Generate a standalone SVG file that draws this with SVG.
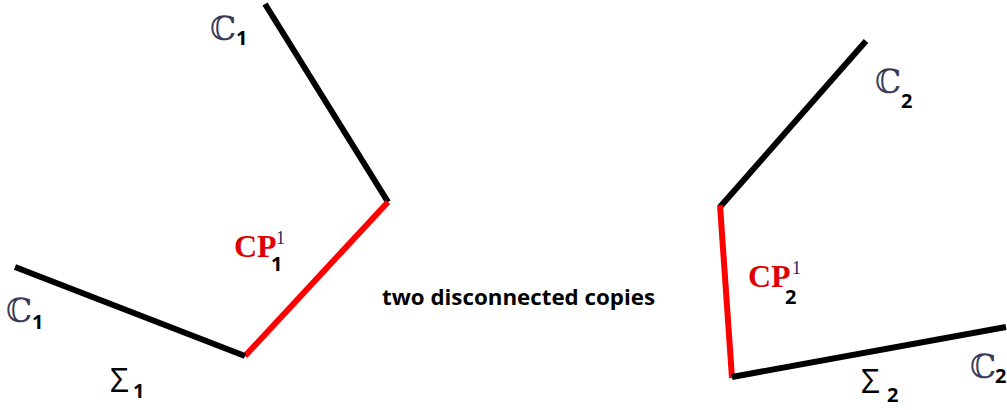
<svg xmlns="http://www.w3.org/2000/svg" width="1007" height="410" viewBox="0 0 1007 410">
<style>
.blk{stroke:#000;stroke-width:6;fill:none;stroke-linecap:butt}
.red{stroke:#ff0000;stroke-width:6;fill:none}
.cc{font-family:"DejaVu Serif","Liberation Serif",serif;font-size:33px;fill:#3a3a5a}
.sub{font-family:"Open Sans","Liberation Sans",sans-serif;font-weight:bold;font-size:20px;fill:#000}
.sig{font-family:"Open Sans","Liberation Sans",sans-serif;font-size:33px;fill:#000}
.cp{font-family:"Liberation Serif","DejaVu Serif",serif;font-weight:bold;font-size:32px;fill:#e00000}
.sup{font-family:"Liberation Serif",serif;font-size:18px;fill:#1a2a6a}
.mid{font-family:"Open Sans","Liberation Sans",sans-serif;font-weight:bold;font-size:22px;fill:#000}
</style>
<g id="connectors">
<line class="blk" x1="265" y1="4" x2="388" y2="202"/>
<line class="red" x1="388" y1="202" x2="245" y2="356"/>
<line class="blk" x1="245" y1="356" x2="15" y2="267"/>
<line class="blk" x1="866" y1="41" x2="720" y2="207"/>
<line class="red" x1="720" y1="205" x2="732" y2="378"/>
<line class="blk" x1="732" y1="377" x2="1006" y2="327"/>
</g>
<g id="label-c1-top"><text class="cc" x="210" y="40">ℂ</text><text class="sub" x="236" y="45">1</text></g>
<g id="label-c1-left"><text class="cc" x="6" y="322">ℂ</text><text class="sub" x="32" y="329">1</text></g>
<g id="label-sigma1"><text class="sig" x="110" y="392">Σ</text><text class="sub" x="133" y="398">1</text></g>
<g id="label-cp1"><text class="cp" x="234" y="257">CP</text><text class="sup" x="276" y="244">1</text><text class="sub" x="271" y="271">1</text></g>
<g id="label-mid"><text class="mid" x="382" y="305" textLength="273" lengthAdjust="spacingAndGlyphs">two disconnected copies</text></g>
<g id="label-c2-top"><text class="cc" x="875" y="93">ℂ</text><text class="sub" x="901" y="108">2</text></g>
<g id="label-cp2"><text class="cp" x="748" y="287">CP</text><text class="sup" x="792" y="274">1</text><text class="sub" x="785" y="304">2</text></g>
<g id="label-sigma2"><text class="sig" x="861" y="393">Σ</text><text class="sub" x="887" y="402">2</text></g>
<g id="label-c2-right"><text class="cc" x="970" y="378">ℂ</text><text class="sub" x="995" y="383">2</text></g>
</svg>
